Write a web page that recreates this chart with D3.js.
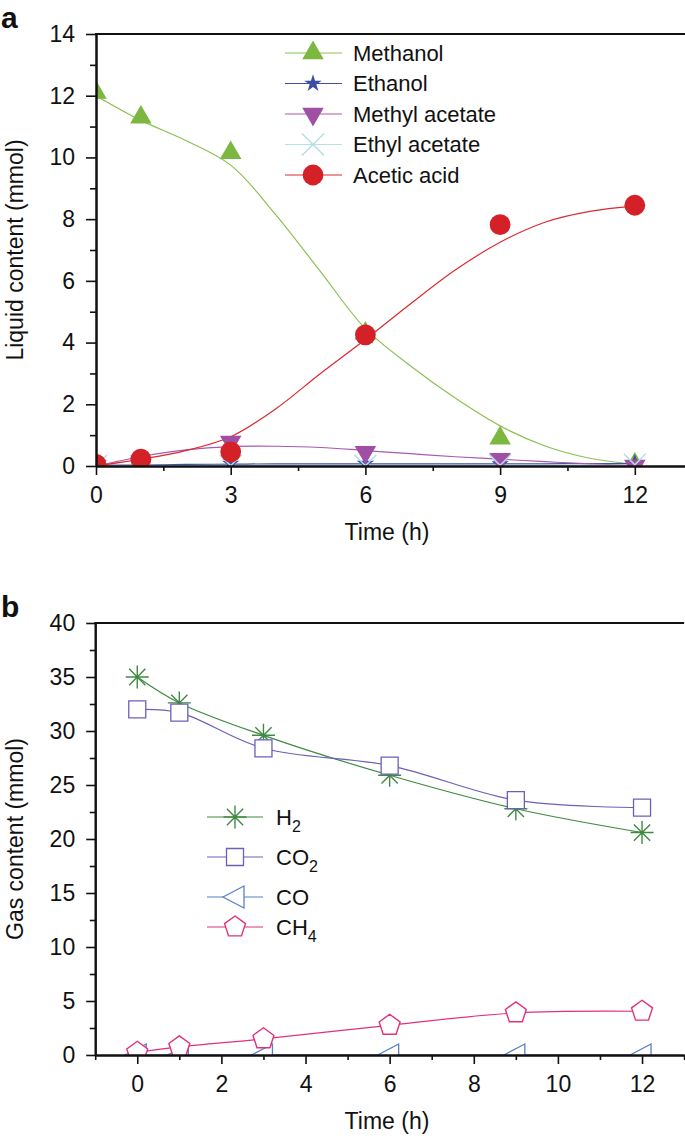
<!DOCTYPE html>
<html><head><meta charset="utf-8">
<script src="https://cdn.jsdelivr.net/npm/d3@7"></script>
<style>
body{margin:0;background:#fff}
text{font-family:"Liberation Sans",Arial,Helvetica,sans-serif;fill:#111}
</style>
</head><body>
<svg id="chart" width="685" height="1139"></svg>
<script>
// ---------- Panel a data ----------
const times = [0, 1, 3, 6, 9, 12];
const methanol = [12.1, 11.3, 10.15, 4.3, 0.9, 0.05];
const ethanol = [0.02, 0.03, 0.08, 0.08, 0.06, 0.1];
const methylAcetate = [0.0, 0.08, 0.78, 0.45, 0.22, 0.0];
const ethylAcetate = [0.0, 0.0, 0.01, 0.01, 0.02, 0.04];
const aceticAcid = [0.05, 0.22, 0.46, 4.25, 7.82, 8.45];

const fitTimes = [0, 1, 2, 3, 4, 5, 6, 7, 8, 9, 10, 11, 12];
const methanolFit = [12.0, 11.2, 10.55, 9.75, 8.15, 6.3, 4.45, 3.25, 2.2, 1.3, 0.65, 0.25, 0.05];
const ethanolFit = [0.02, 0.03, 0.05, 0.06, 0.07, 0.07, 0.07, 0.07, 0.07, 0.07, 0.07, 0.08, 0.08];
const methylAcetateFit = [0.0, 0.3, 0.52, 0.63, 0.64, 0.6, 0.5, 0.4, 0.3, 0.22, 0.14, 0.07, 0.02];
const ethylAcetateFit = [0, 0, 0, 0.01, 0.01, 0.01, 0.01, 0.01, 0.01, 0.02, 0.02, 0.02, 0.03];
const aceticAcidFit = [0.0, 0.22, 0.5, 0.95, 1.85, 3.0, 4.1, 5.25, 6.35, 7.25, 7.9, 8.25, 8.42];

const liquidNames = ["Methanol", "Ethanol", "Methyl acetate", "Ethyl acetate", "Acetic acid"];
const xMajorA = [0, 3, 6, 9, 12];
const xMinorA = [1.5, 4.5, 7.5, 10.5];
const yMajorA = [0, 2, 4, 6, 8, 10, 12, 14];
const yMinorA = [1, 3, 5, 7, 9, 11, 13];

// ---------- Panel b data ----------
const gasTimes = [0, 1, 3, 6, 9, 12];
const h2 = [35.0, 32.6, 29.6, 25.9, 22.8, 20.6];
const co2 = [32.0, 31.7, 28.4, 26.8, 23.6, 22.9];
const co = [0, 0, 0, 0, 0, 0];
const ch4 = [0.25, 0.75, 1.5, 2.75, 3.9, 4.05];
const gasLabels = [["H", "2"], ["CO", "2"], ["CO", ""], ["CH", "4"]];
const xMajorB = [0, 2, 4, 6, 8, 10, 12];
const xMinorB = [-1, 1, 3, 5, 7, 9, 11, 13];
const yMajorB = [0, 5, 10, 15, 20, 25, 30, 35, 40];
const yMinorB = [2.5, 7.5, 12.5, 17.5, 22.5, 27.5, 32.5, 37.5];

// ---------- setup ----------
const svg = d3.select("#chart");
const TICKFONT = 23, TITLEFONT = 23, LEGFONT = 22;

function drawAxes(g, x, y, opt) {
  const [x0, x1] = x.range(), [yb, yt] = y.range();
  const bx = g.append("g").attr("transform", `translate(0,${yb})`);
  bx.call(d3.axisBottom(x).tickValues(opt.xMajor).tickSize(9).tickPadding(12).tickSizeOuter(0).tickFormat(d3.format("d")));
  bx.append("g").call(d3.axisBottom(x).tickValues(opt.xMinor).tickSize(5).tickSizeOuter(0).tickFormat(""));
  const lx = g.append("g").attr("transform", `translate(${x0},0)`);
  lx.call(d3.axisLeft(y).tickValues(opt.yMajor).tickSize(opt.yMajorLen).tickPadding(11).tickSizeOuter(0).tickFormat(d3.format("d")));
  lx.append("g").call(d3.axisLeft(y).tickValues(opt.yMinor).tickSize(opt.yMajorLen * 0.6).tickSizeOuter(0).tickFormat(""));
  g.selectAll(".domain").attr("stroke", "#111").attr("stroke-width", 2);
  g.selectAll(".tick line").attr("stroke", "#111").attr("stroke-width", 1.6);
  g.selectAll(".tick text").attr("font-size", TICKFONT).attr("font-family", '"Liberation Sans",Arial,sans-serif').attr("fill", "#111");
  g.append("line").attr("x1", x0 - 1).attr("x2", x1).attr("y1", yt).attr("y2", yt)
    .attr("stroke", "#111").attr("stroke-width", 2);
  g.append("text").attr("x", 387).attr("y", yb + 74).attr("text-anchor", "middle")
    .attr("font-size", TITLEFONT).text("Time (h)");
  g.append("text").attr("transform", `translate(23,${(yb + yt) / 2}) rotate(-90)`)
    .attr("text-anchor", "middle").attr("font-size", TITLEFONT).text(opt.yTitle);
}

const triUp = d3.symbol(d3.symbolTriangle, 200)();
const circ = d3.symbol(d3.symbolCircle, 340)();
const star = d3.symbol(d3.symbolStar, 95)();
function xMark(r) { return `M${-r},${-r}L${r},${r}M${-r},${r}L${r},${-r}`; }
function asterisk(r) {
  const d = r * Math.SQRT1_2;
  return `M${-r},0L${r},0M0,${-r}L0,${r}M${-d},${-d}L${d},${d}M${-d},${d}L${d},${-d}`;
}
function square(s) { const h = s / 2; return `M${-h},${-h}H${h}V${h}H${-h}Z`; }
function pentagon(r) {
  const pts = d3.range(5).map(i => { const a = -Math.PI / 2 + i * 2 * Math.PI / 5; return [r * Math.cos(a), r * Math.sin(a)]; });
  return "M" + pts.map(p => p.join(",")).join("L") + "Z";
}
function triLeft() { return "M-12,0L9,-11L9,11Z"; }

// ---------- Panel a ----------
{
  const x = d3.scaleLinear().domain([0, 13.14]).range([96, 686]);
  const y = d3.scaleLinear().domain([0, 14]).range([466, 34]);
  const g = svg.append("g");
  svg.append("text").attr("x", 1).attr("y", 28).attr("font-size", 30).attr("font-weight", "bold").text("a");

  g.append("clipPath").attr("id", "clipA").append("rect")
    .attr("x", 96).attr("y", 34).attr("width", 590).attr("height", 432);

  const series = [
    { name: liquidNames[0], vals: methanol, fit: methanolFit, line: "#8cc152", color: "#7cb83f", shape: "triUp" },
    { name: liquidNames[1], vals: ethanol, fit: ethanolFit, line: "#3d52a3", color: "#3b4ea3", shape: "star" },
    { name: liquidNames[2], vals: methylAcetate, fit: methylAcetateFit, line: "#a95aab", color: "#a04fa5", shape: "triDown" },
    { name: liquidNames[3], vals: ethylAcetate, fit: ethylAcetateFit, line: "#b8dfe9", color: "#b5dde8", shape: "x" },
    { name: liquidNames[4], vals: aceticAcid, fit: aceticAcidFit, line: "#d92a30", color: "#d42027", shape: "circle" }
  ];
  function markerSel(sel, s) {
    if (s.shape === "triUp") sel.append("path").attr("d", triUp).attr("fill", s.color);
    else if (s.shape === "triDown") sel.append("path").attr("d", triUp).attr("transform", "rotate(180)").attr("fill", s.color);
    else if (s.shape === "star") sel.append("path").attr("d", star).attr("fill", s.color);
    else if (s.shape === "circle") sel.append("path").attr("d", circ).attr("fill", s.color);
    else sel.append("path").attr("d", xMark(11)).attr("fill", "none").attr("stroke", s.color).attr("stroke-width", 1.5);
  }

  const plot = g.append("g").attr("clip-path", "url(#clipA)");
  const line = d3.line().x(d => x(d[0])).y(d => y(d[1])).curve(d3.curveCatmullRom.alpha(0.5));
  series.forEach(s => {
    plot.append("path").attr("d", line(fitTimes.map((t, i) => [t, s.fit[i]])))
      .attr("fill", "none").attr("stroke", s.line).attr("stroke-width", 1.2);
  });
  series.forEach(s => {
    times.forEach((t, i) => {
      const m = plot.append("g").attr("transform", `translate(${x(t)},${y(s.vals[i])})`);
      markerSel(m, s);
    });
  });

  drawAxes(g, x, y, { xMajor: xMajorA, xMinor: xMinorA, yMajor: yMajorA, yMinor: yMinorA, yMajorLen: 10, yTitle: "Liquid content (mmol)" });

  const lg = g.append("g");
  series.forEach((s, i) => {
    const yy = 53 + i * 30.5;
    const r = lg.append("g").attr("transform", `translate(0,${yy})`);
    r.append("line").attr("x1", 285).attr("x2", 342).attr("y1", 0).attr("y2", 0).attr("stroke", s.line).attr("stroke-width", 1.2);
    const m = r.append("g").attr("transform", "translate(313,0)");
    markerSel(m, s);
    r.append("text").attr("x", 353).attr("y", 0).attr("dy", "0.36em").attr("font-size", LEGFONT).text(s.name);
  });
}

// ---------- Panel b ----------
{
  const x = d3.scaleLinear().domain([-1, 13]).range([95.2, 684.1]);
  const y = d3.scaleLinear().domain([0, 40]).range([1055, 623]);
  const g = svg.append("g");
  svg.append("text").attr("x", 1).attr("y", 617).attr("font-size", 30).attr("font-weight", "bold").text("b");

  g.append("clipPath").attr("id", "clipB").append("rect")
    .attr("x", 95).attr("y", 623).attr("width", 590).attr("height", 432);

  const series = [
    { lab: gasLabels[0], vals: h2, color: "#3f8a42", shape: "ast" },
    { lab: gasLabels[1], vals: co2, color: "#6b60b8", shape: "sq" },
    { lab: gasLabels[2], vals: co, color: "#5a80c8", shape: "tri" },
    { lab: gasLabels[3], vals: ch4, color: "#e0307c", shape: "pent" }
  ];
  function markerSel(sel, s) {
    if (s.shape === "ast") sel.append("path").attr("d", asterisk(11.5)).attr("fill", "none").attr("stroke", s.color).attr("stroke-width", 1.4);
    else if (s.shape === "sq") sel.append("path").attr("d", square(17)).attr("fill", "#fff").attr("stroke", s.color).attr("stroke-width", 1.3);
    else if (s.shape === "tri") sel.append("path").attr("d", triLeft()).attr("fill", "#fff").attr("stroke", s.color).attr("stroke-width", 1.3);
    else sel.append("path").attr("d", pentagon(11)).attr("fill", "#fff").attr("stroke", s.color).attr("stroke-width", 1.4);
  }
  const plot = g.append("g").attr("clip-path", "url(#clipB)");
  const line = d3.line().x(d => x(d[0])).y(d => y(d[1])).curve(d3.curveCatmullRom.alpha(0.5));
  series.forEach(s => {
    plot.append("path").attr("d", line(gasTimes.map((t, i) => [t, s.vals[i]])))
      .attr("fill", "none").attr("stroke", s.color).attr("stroke-width", 1.2);
    gasTimes.forEach((t, i) => {
      const m = plot.append("g").attr("transform", `translate(${x(t)},${y(s.vals[i])})`);
      markerSel(m, s);
    });
  });

  drawAxes(g, x, y, { xMajor: xMajorB, xMinor: xMinorB, yMajor: yMajorB, yMinor: yMinorB, yMajorLen: 9, yTitle: "Gas content (mmol)" });

  const rowsY = [817, 857, 897, 927];
  const lg = g.append("g");
  series.forEach((s, i) => {
    const r = lg.append("g").attr("transform", `translate(0,${rowsY[i]})`);
    r.append("line").attr("x1", 207).attr("x2", 263).attr("y1", 0).attr("y2", 0).attr("stroke", s.color).attr("stroke-width", 1.2);
    const m = r.append("g").attr("transform", "translate(235,0)");
    markerSel(m, s);
    const t = r.append("text").attr("x", 276).attr("y", 0).attr("dy", "0.36em").attr("font-size", LEGFONT);
    t.append("tspan").text(s.lab[0]);
    if (s.lab[1]) t.append("tspan").attr("font-size", 16).attr("dy", 7).text(s.lab[1]);
  });
}
</script>
</body></html>
